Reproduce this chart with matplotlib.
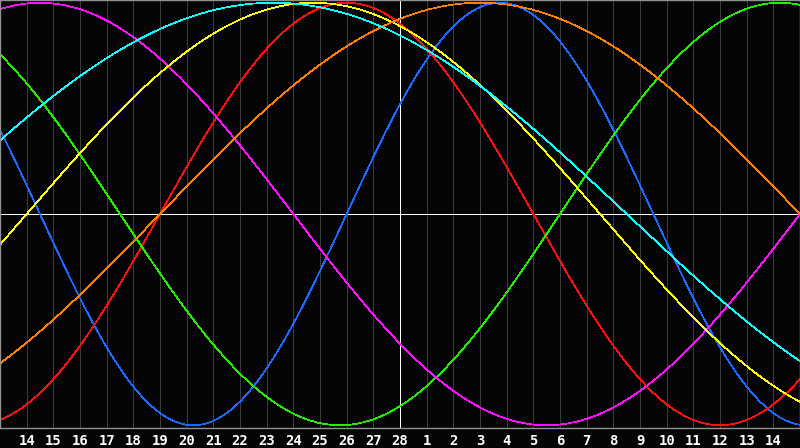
import numpy as np
from matplotlib import pyplot as plt

# biorhythm cycles (days) and their colours
cycles = [23, 28, 33, 38, 43, 48, 53]
couleurs = ['#1a6aff', '#ff1010', '#22ee00', '#ff10ff', '#ffff10', '#ff8000', '#10ffff']
jours_naissance = 26889  # days lived on the centre date (28)
jour_centre = 15         # position of the centre date on the axis
etiquettes = [14, 15, 16, 17, 18, 19, 20, 21, 22, 23, 24, 25, 26, 27, 28,
              1, 2, 3, 4, 5, 6, 7, 8, 9, 10, 11, 12, 13, 14]

fig = plt.figure(figsize=(8, 4.48), dpi=100)
fig.patch.set_facecolor('#050508')
ax = fig.add_axes([0, 20 / 448, 1, 428 / 448])
ax.set_facecolor('#050508')

# vertical day lines
for k in range(1, len(etiquettes) + 1):
    c = 'white' if k == jour_centre else '#3c3c3c'
    ax.axvline(k, color=c, lw=0.6, antialiased=False, zorder=1)
ax.axhline(0, color='white', lw=0.6, antialiased=False, zorder=1)

t = np.linspace(0, 30, 1201)
for p, c in zip(cycles, couleurs):
    y = np.sin(2 * np.pi * (jours_naissance + t - jour_centre) / p)
    ax.plot(t, y, color=c, lw=0.5, antialiased=False, zorder=2)

ax.set_xlim(0, 30)
ax.set_ylim(-1.013, 1.013)
ax.set_xticks(range(1, len(etiquettes) + 1))
ax.set_xticklabels([str(e) for e in etiquettes], color='white',
                   family='DejaVu Sans Mono', fontweight='bold', fontsize=10)
ax.tick_params(axis='x', length=0, pad=4)
ax.set_yticks([])
for s in ax.spines.values():
    s.set_color('#909090')
    s.set_linewidth(1.0)

plt.savefig('out.png', dpi=100, facecolor=fig.get_facecolor())
